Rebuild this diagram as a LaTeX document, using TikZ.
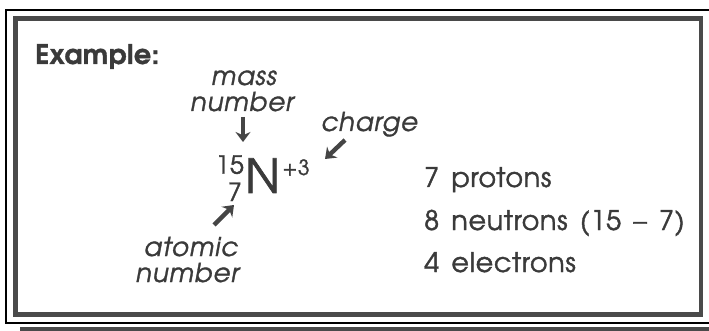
\documentclass[tikz,border=0pt]{standalone}
\usepackage{fontspec}
\setmainfont{TeX Gyre Adventor}
\newfontfamily\gothic[FakeBold=1.4,LetterSpace=2.5,WordSpace=1.5]{TeX Gyre Adventor}
\newfontfamily\gothicbold[LetterSpace=1.5,FakeBold=1.2]{TeX Gyre Adventor}
\newfontfamily\gothicit[FakeBold=1.2,LetterSpace=3.5]{TeX Gyre Adventor}
\usetikzlibrary{arrows.meta}
\definecolor{ink}{HTML}{3A3A3A}
\definecolor{frame}{HTML}{4A4A4A}
\definecolor{arr}{HTML}{454545}
\tikzset{
  lbl/.style={inner sep=0pt, text=ink, font=\fontsize{26}{28}\gothicit\itshape},
  fact/.style={inner sep=0pt, text=ink, anchor=base west, font=\fontsize{27}{29}\gothic},
  iso/.style={inner sep=0pt, text=ink},
  pointer/.style={draw=arr, line width=4.4pt, -{Stealth[length=10pt,width=15pt]}},
}
\begin{document}
\begin{tikzpicture}[x=1pt,y=-1pt]
\useasboundingbox (0,0) rectangle (709,331);
\fill[white] (0,0) rectangle (709,331);
% outer thin frame
\draw[line width=1.4pt, black] (709,10) -- (6,10) -- (6,323) -- (709,323);
% inner thick frame
\draw[line width=4.5pt, frame] (15.5,18.5) rectangle (701,314.5);
% bottom shadow band
\fill[frame] (20,326.5) rectangle (709,331);
% title
\node[inner sep=0pt, anchor=base west, text=ink, font=\fontsize{27}{29}\gothicbold\bfseries] (title) at (35,64) {Example:};
% isotope
\node[iso, anchor=base west, font=\fontsize{47}{49}\gothic] (N) at (245,193) {N};
\node[iso, anchor=north east, font=\fontsize{25}{27}\gothic] (A) at ([xshift=-1pt,yshift=3pt]N.north west) {15};
\node[iso, anchor=south east, font=\fontsize{25}{27}\gothic] (Z) at ([xshift=-3pt,yshift=-8pt]N.south west) {7};
\node[iso, anchor=north west, font=\fontsize{21}{23}\gothic] (q) at ([xshift=2pt,yshift=-1pt]N.north east) {+3};
% labels
\node[lbl, anchor=base] (mass) at (244,85) {mass};
\node[lbl, anchor=base] (mnum) at (242,111) {number};
\node[lbl, anchor=base west] (charge) at (321,131) {charge};
\node[lbl, anchor=base east] (atomic) at (238,256) {atomic};
\node[lbl, anchor=base east] (anum) at (239,282) {number};
% arrows
\coordinate (m1) at (243,117);
\coordinate (m2) at (243,142);
\draw[pointer] (m1) -- (m2);
\coordinate (c1) at (345,140);
\coordinate (c2) at (325,159);
\draw[pointer] (c1) -- (c2);
\coordinate (a1) at (214,225);
\coordinate (a2) at (234,205);
\draw[pointer] (a1) -- (a2);
% facts
\node[fact] (p) at (424,187) {7 protons};
\node[fact] (n) at (424,230) {8 neutrons (15 – 7)};
\node[fact] (e) at (424,272) {4 electrons};
\end{tikzpicture}
\end{document}
